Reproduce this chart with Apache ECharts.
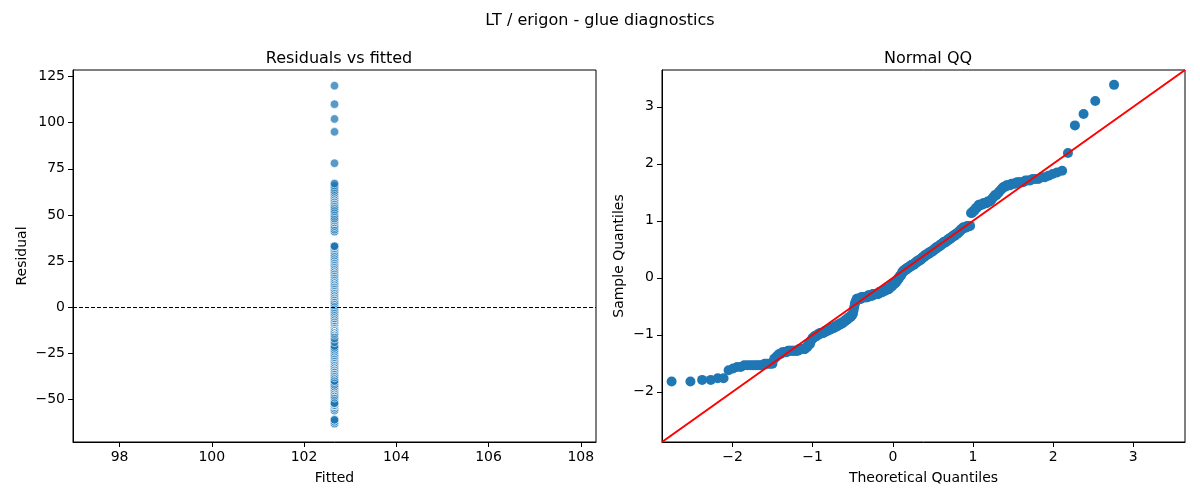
<!DOCTYPE html>
<html>
<head>
    <title>LT / erigon - glue diagnostics</title>
    <meta http-equiv="Content-Type" content="text/html; charset=utf-8" />
    <script src="https://cdn.jsdelivr.net/npm/echarts@6.0.0/dist/echarts.min.js"></script>
    <style>
        body { margin: 0; background: #fff; }
        #div_echart { width: 1200px; height: 500px; }
    </style>
    <script>
        // fitted value (constant model) and sorted residuals
        var fittedValue = 102.66;
        var residuals = [
            -63, -63, -62, -62, -61, -61,
            -56, -55, -54, -54, -53, -53,
            -53, -53, -53, -53, -53, -53, -52, -52, -52, -52, -52,
            -49, -48, -47, -46, -46, -45,
            -45, -45, -45, -44, -44, -44, -44, -44, -44, -44,
            -44, -44, -43, -43, -43, -43, -43, -43,
            -42, -42, -41, -40, -40,
            -38, -37, -36,
            -36, -35, -35, -35, -34, -34, -34, -33, -33, -33,
            -33, -33, -32, -32, -32, -32, -31, -31, -31, -31, -30, -30, -30,
            -30, -30, -29, -29, -29, -29, -28, -28, -28, -28, -27, -27, -27,
            -27, -26, -26, -26, -25, -25, -25, -24, -24, -24, -23, -23, -23, -22,
            -22, -21, -19, -17, -15, -14, -13,
            -12, -12, -12, -12, -12, -12, -12, -11, -11, -11, -11, -11, -11, -11, -11,
            -11, -11, -11, -10, -10, -10, -10, -10, -10, -10, -10, -9, -9, -9, -9, -9, -9, -9, -9, -9, -9, -8, -8,
            -8, -8, -8, -8, -7, -7, -7, -7, -7, -7, -6, -6, -6, -6, -6, -6,
            -5, -5, -5, -4, -4, -4, -3, -3, -3, -2, -2,
            -2, -1, -1, 0, 0, 1, 1, 2, 2, 3, 3, 4,
            5, 5, 5, 6, 6, 6, 6, 7, 7, 7, 7, 8, 8, 8, 8, 9, 9, 9, 9, 9, 10, 10, 10, 11, 11, 11, 11, 12, 12, 12, 12, 13, 13, 13,
            14, 14, 14, 15, 15, 15, 15, 16, 16, 16, 16, 17, 17, 17, 17, 18, 18,
            18, 19, 19, 19, 20, 20, 20, 20, 21, 21,
            21, 22, 22, 22, 23, 23, 23, 23, 24, 24,
            24, 25, 25, 25, 26, 26, 26, 27, 27, 27,
            28, 28, 28, 29, 29, 30, 30, 31, 31, 32,
            32, 32, 32, 32, 33, 33, 33, 33,
            41, 41, 42, 42, 43, 44, 44, 45, 46,
            46, 46, 46, 47, 47, 47, 47, 48, 48,
            48, 49, 50, 51, 52, 52, 53, 54,
            55, 56, 57, 57,
            58, 58, 58, 59, 59, 59, 60, 60, 60,
            60, 61, 61, 61, 62, 62, 62,
            63, 63, 64,
            65, 66, 67,
            78, 95, 102, 110, 120
        ];

        // axis limits and tick labels
        var fittedLim = [96.99, 108.33];
        var fittedTicks = [98, 100, 102, 104, 106, 108];
        var residLim = [-73, 128.5];
        var residTicks = [-50, -25, 0, 25, 50, 75, 100, 125];
        var qqLim = [-2.88, 3.645];
        var qqTicks = [-2, -1, 0, 1, 2, 3];

        window.onload = function () {
            EchartInit();
        };

        // inverse normal cdf (Acklam)
        function normPpf(p) {
            var a = [-3.969683028665376e+01, 2.209460984245205e+02, -2.759285104469687e+02, 1.383577518672690e+02, -3.066479806614716e+01, 2.506628277459239e+00];
            var b = [-5.447609879822406e+01, 1.615858368580409e+02, -1.556989798598866e+02, 6.680131188771972e+01, -1.328068155288572e+01];
            var c = [-7.784894002430293e-03, -3.223964580411365e-01, -2.400758277161838e+00, -2.549732539343734e+00, 4.374664141464968e+00, 2.938163982698783e+00];
            var d = [7.784695709041462e-03, 3.224671290700398e-01, 2.445134137142996e+00, 3.754408661907416e+00];
            var pl = 0.02425, q, r;
            if (p < pl) {
                q = Math.sqrt(-2 * Math.log(p));
                return (((((c[0] * q + c[1]) * q + c[2]) * q + c[3]) * q + c[4]) * q + c[5]) / ((((d[0] * q + d[1]) * q + d[2]) * q + d[3]) * q + 1);
            }
            if (p > 1 - pl) {
                q = Math.sqrt(-2 * Math.log(1 - p));
                return -(((((c[0] * q + c[1]) * q + c[2]) * q + c[3]) * q + c[4]) * q + c[5]) / ((((d[0] * q + d[1]) * q + d[2]) * q + d[3]) * q + 1);
            }
            q = p - 0.5;
            r = q * q;
            return (((((a[0] * r + a[1]) * r + a[2]) * r + a[3]) * r + a[4]) * r + a[5]) * q / (((((b[0] * r + b[1]) * r + b[2]) * r + b[3]) * r + b[4]) * r + 1);
        }

        function minusFmt(v) {
            return String(v).replace('-', '\u2212');
        }

        function EchartInit() {
            var mychart = echarts.init(document.getElementById('div_echart'));
            var font = 'DejaVu Sans';
            var n = residuals.length;

            // left panel points
            var residData = residuals.map(function (r) { return [fittedValue, r]; });

            // qq: standardize with sample mean / std, plot against normal quantiles
            var mean = 0, sd = 0;
            residuals.forEach(function (r) { mean += r; });
            mean /= n;
            residuals.forEach(function (r) { sd += (r - mean) * (r - mean); });
            sd = Math.sqrt(sd / n);
            var qqData = residuals.slice().sort(function (x, y) { return x - y; }).map(function (r, i) {
                return [normPpf((i + 1) / (n + 1)), (r - mean) / sd];
            });

            function axisCommon(lim, ticks) {
                return {
                    type: 'value',
                    min: lim[0],
                    max: lim[1],
                    splitLine: { show: false },
                    axisLine: { show: true, onZero: false, lineStyle: { color: '#000', width: 1 } },
                    axisTick: { show: true, length: 5, customValues: ticks, lineStyle: { color: '#000', width: 1 } },
                    axisLabel: { customValues: ticks, color: '#000', fontSize: 14, fontFamily: font, margin: 8, formatter: minusFmt },
                    nameLocation: 'middle',
                    nameTextStyle: { color: '#000', fontSize: 14, fontFamily: font }
                };
            }

            var xLeft = axisCommon(fittedLim, fittedTicks);
            xLeft.gridIndex = 0; xLeft.name = 'Fitted'; xLeft.nameGap = 29;
            var yLeft = axisCommon(residLim, residTicks);
            yLeft.gridIndex = 0; yLeft.name = 'Residual'; yLeft.nameGap = 44;
            var xRight = axisCommon(qqLim, qqTicks);
            xRight.gridIndex = 1; xRight.name = 'Theoretical Quantiles'; xRight.nameGap = 29;
            var yRight = axisCommon(qqLim, qqTicks);
            yRight.gridIndex = 1; yRight.name = 'Sample Quantiles'; yRight.nameGap = 36;

            var titleStyle = { color: '#000', fontSize: 16, fontWeight: 'normal', fontFamily: font };

            var option = {
                backgroundColor: '#fff',
                animation: false,
                title: [
                    { text: 'LT / erigon - glue diagnostics', left: 'center', top: 8, textStyle: titleStyle },
                    { text: 'Residuals vs fitted', left: 334, top: 46, textAlign: 'center', textStyle: titleStyle },
                    { text: 'Normal QQ', left: 923, top: 46, textAlign: 'center', textStyle: titleStyle }
                ],
                grid: [
                    { left: 73, top: 70, width: 523, height: 372, show: true, borderColor: '#000', borderWidth: 1, backgroundColor: 'transparent' },
                    { left: 662, top: 70, width: 523, height: 372, show: true, borderColor: '#000', borderWidth: 1, backgroundColor: 'transparent' }
                ],
                xAxis: [xLeft, xRight],
                yAxis: [yLeft, yRight],
                series: [
                    {
                        type: 'scatter',
                        xAxisIndex: 0,
                        yAxisIndex: 0,
                        symbolSize: 8.5,
                        itemStyle: { color: 'rgba(31,119,180,0.75)', opacity: 1, borderColor: '#fff', borderWidth: 0.6 },
                        data: residData,
                        markLine: {
                            silent: true,
                            symbol: 'none',
                            label: { show: false },
                            lineStyle: { color: '#000', type: [4, 2], width: 1 },
                            data: [{ yAxis: 0 }]
                        }
                    },
                    {
                        type: 'scatter',
                        xAxisIndex: 1,
                        yAxisIndex: 1,
                        symbolSize: 10,
                        itemStyle: { color: '#1f77b4', opacity: 1 },
                        data: qqData
                    },
                    {
                        type: 'line',
                        xAxisIndex: 1,
                        yAxisIndex: 1,
                        symbol: 'none',
                        z: 5,
                        lineStyle: { color: '#ff0000', width: 2 },
                        data: [[qqLim[0], qqLim[0]], [qqLim[1], qqLim[1]]]
                    }
                ]
            };

            mychart.setOption(option, true);
        }
    </script>
</head>
<body>
    <div id="div_echart"></div>
</body>
</html>
